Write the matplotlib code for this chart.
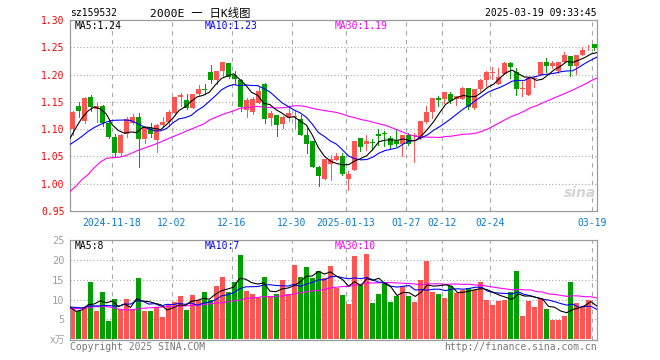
import numpy as np
import pandas as pd
import matplotlib
matplotlib.use("Agg")
import matplotlib.pyplot as plt

# ---------------- data ----------------
opens = [1.100, 1.142, 1.115, 1.159, 1.136, 1.142, 1.111, 1.085, 1.057, 1.092,
         1.112, 1.122, 1.082, 1.103, 1.080, 1.107, 1.113, 1.129, 1.159, 1.153,
         1.139, 1.165, 1.173, 1.204, 1.1905, 1.2065, 1.221, 1.199, 1.1905, 1.135,
         1.132, 1.1476, 1.1826, 1.120, 1.1256, 1.109, 1.123, 1.122, 1.118, 1.089,
         1.078, 1.0305, 1.009, 1.037, 1.043, 1.0508, 1.008, 1.025, 1.0833, 1.0722,
         1.0753, 1.0906, 1.0925, 1.0833, 1.0784, 1.0722, 1.089, 1.0876, 1.0833, 1.1133,
         1.1317, 1.1574, 1.155, 1.1642, 1.155, 1.155, 1.1746, 1.1384, 1.1734, 1.1905,
         1.203, 1.1826, 1.201, 1.221, 1.2053, 1.1734, 1.1623, 1.191, 1.199, 1.2224,
         1.2163, 1.2071, 1.2236, 1.2335, 1.215, 1.236, 1.2535, 1.256]
highs = [1.133, 1.150, 1.158, 1.162, 1.148, 1.145, 1.116, 1.092, 1.092, 1.122,
         1.127, 1.129, 1.105, 1.111, 1.109, 1.123, 1.135, 1.158, 1.166, 1.164,
         1.164, 1.180, 1.183, 1.2175, 1.2065, 1.2236, 1.221, 1.2065, 1.192, 1.1575,
         1.158, 1.1777, 1.184, 1.1335, 1.1256, 1.1244, 1.1415, 1.1335, 1.1256, 1.103,
         1.078, 1.0324, 1.0447, 1.052, 1.057, 1.057, 1.0232, 1.0778, 1.0833, 1.089,
         1.0814, 1.100, 1.0968, 1.0876, 1.0986, 1.089, 1.0925, 1.0925, 1.115, 1.1427,
         1.1574, 1.160, 1.1685, 1.1685, 1.161, 1.178, 1.1746, 1.1734, 1.1918, 1.207,
         1.213, 1.2114, 1.2224, 1.2236, 1.2114, 1.190, 1.1948, 1.198, 1.2236, 1.2298,
         1.2243, 1.2224, 1.242, 1.2335, 1.236, 1.250, 1.2545, 1.256]
lows = [1.090, 1.123, 1.112, 1.133, 1.113, 1.106, 1.083, 1.050, 1.053, 1.086,
        1.109, 1.030, 1.074, 1.086, 1.058, 1.105, 1.106, 1.126, 1.143, 1.137,
        1.138, 1.162, 1.165, 1.184, 1.1826, 1.198, 1.1936, 1.1826, 1.1335, 1.123,
        1.1274, 1.1476, 1.112, 1.107, 1.0876, 1.102, 1.1152, 1.102, 1.089, 1.057,
        1.0305, 0.9956, 1.009, 1.0067, 1.043, 1.0164, 0.988, 1.025, 1.060, 1.0618,
        1.062, 1.0704, 1.069, 1.066, 1.0692, 1.050, 1.0704, 1.0397, 1.0814, 1.112,
        1.1213, 1.1415, 1.1476, 1.1476, 1.144, 1.155, 1.1366, 1.1366, 1.170, 1.1795,
        1.1918, 1.1826, 1.201, 1.193, 1.1623, 1.161, 1.1623, 1.1765, 1.199, 1.204,
        1.2114, 1.2028, 1.2236, 1.198, 1.201, 1.236, 1.2457, 1.2457]
closes = [1.131, 1.133, 1.157, 1.141, 1.142, 1.112, 1.086, 1.057, 1.090, 1.118,
          1.123, 1.082, 1.103, 1.091, 1.107, 1.113, 1.132, 1.158, 1.162, 1.139,
          1.164, 1.173, 1.172, 1.1905, 1.2065, 1.2224, 1.196, 1.192, 1.140, 1.153,
          1.155, 1.170, 1.118, 1.129, 1.107, 1.123, 1.130, 1.1245, 1.089, 1.0722,
          1.0305, 1.015, 1.0447, 1.0447, 1.0508, 1.0177, 1.017, 1.0778, 1.0673, 1.0778,
          1.0747, 1.0876, 1.0918, 1.0704, 1.0722, 1.089, 1.0722, 1.090, 1.115, 1.1317,
          1.1574, 1.1538, 1.1685, 1.152, 1.160, 1.175, 1.1403, 1.1734, 1.1905, 1.2053,
          1.205, 1.196, 1.221, 1.213, 1.1734, 1.1746, 1.193, 1.193, 1.2236, 1.2163,
          1.221, 1.2224, 1.236, 1.2163, 1.236, 1.2457, 1.2545, 1.2488]
volumes = [7.8, 7.0, 8.1, 14.5, 7.0, 11.8, 4.5, 10.2, 7.6, 10.2,
           7.6, 15.5, 7.0, 7.1, 8.1, 5.7, 8.9, 9.5, 10.9, 7.4,
           11.2, 9.9, 12.0, 10.0, 13.4, 15.8, 12.0, 14.3, 21.3, 12.2,
           11.4, 10.3, 15.8, 10.9, 11.4, 15.0, 11.4, 18.7, 15.8, 18.3,
           15.5, 17.1, 15.4, 18.5, 12.9, 11.2, 8.9, 21.0, 13.7, 21.5,
           9.2, 11.4, 14.1, 9.5, 10.8, 13.3, 10.8, 9.5, 15.0, 19.8,
           11.8, 11.4, 10.5, 13.3, 11.6, 12.4, 12.9, 12.4, 14.5, 9.9,
           8.7, 9.7, 9.9, 11.8, 17.1, 5.9, 9.7, 8.0, 10.1, 7.6,
           4.9, 4.9, 5.9, 14.3, 9.2, 8.1, 9.9, 0.1]

# moving-average values at the left edge (they depend on days before the window)
ma5_head = [1.083, 1.103, 1.121, 1.1335]
ma10_head = [1.072, 1.079, 1.087, 1.096, 1.103, 1.1085, 1.113, 1.116, 1.1165]
ma30_head = [0.986, 0.9956, 1.008, 1.017, 1.0293, 1.0397, 1.0465, 1.0477, 1.0483, 1.0508,
             1.055, 1.060, 1.0643, 1.068, 1.0722, 1.0765, 1.0814, 1.0863, 1.0906, 1.0955,
             1.100, 1.1047, 1.109, 1.1166, 1.1215, 1.126, 1.130, 1.1335, 1.138]
vma5_head = [8.1, 7.0, 7.4, 8.7]
vma10_head = [8.1, 8.0, 7.9, 8.3, 8.4, 8.4, 8.5, 8.4, 8.3]
vma30_head = [7.8, 7.7, 7.7, 7.9, 8.2, 8.2, 8.2, 8.0, 7.6, 7.4,
              7.4, 7.6, 7.8, 7.9, 8.0, 8.1, 8.2, 8.2, 8.3, 8.4,
              8.5, 8.6, 8.7, 8.9, 9.1, 9.2, 9.4, 9.7, 9.8]

date_index = [7, 17, 27, 37, 46, 56, 62, 70, 87]
date_labels = ["2024-11-18", "12-02", "12-16", "12-30", "2025-01-13",
               "01-27", "02-12", "02-24", "03-19"]
price_ticks = [0.95, 1.00, 1.05, 1.10, 1.15, 1.20, 1.25, 1.30]
vol_ticks = [5, 10, 15, 20, 25]

title_code = "sz159532"
title_name = "2000E 一 日K线图"
timestamp = "2025-03-19 09:33:45"
vol_unit = "x万"
footer_left = "Copyright 2025 SINA.COM"
footer_right = "http://finance.sina.com.cn"

# ---------------- styling ----------------
RED = "#ff5454"
GREEN = "#00a000"
BLUE = "#0000ff"
MAG = "#ff00ff"
GRID = "#a8a8a8"
BORDER = "#999999"
MONO = "DejaVu Sans Mono"
FS = 7.0
PX = 0.72  # one pixel in points

W, H = 660, 360
fig = plt.figure(figsize=(W / 100, H / 100), dpi=100)
fig.patch.set_facecolor("white")


def rect(l, t, r, b):
    return [l / W, 1 - b / H, (r - l) / W, (b - t) / H]


def ftext(x, y, s, **kw):
    fig.text(x / W, 1 - y / H, s, va="center", **kw)


def moving(vals, n, head):
    s = pd.Series(vals, dtype=float).rolling(n).mean().to_numpy()
    s[: n - 1] = head
    return s


n = len(closes)
xs = np.arange(n)
XL = (-0.417, n - 1 + 0.417)
line_x = np.linspace(XL[0], XL[1], n)

o = np.array(opens); c = np.array(closes); h = np.array(highs); lo = np.array(lows)
up = c >= o
colors = np.where(up, RED, GREEN)

ax = fig.add_axes(rect(70, 20, 597, 211))
axv = fig.add_axes(rect(70, 240, 597, 340))

for a in (ax, axv):
    a.set_xlim(*XL)
    for sp in a.spines.values():
        sp.set_color(BORDER)
        sp.set_linewidth(1.2 * PX)
    a.tick_params(length=0)
    for di in date_index:
        a.axvline(di - 0.417, color=GRID, lw=1.1 * PX, ls=(0, (4, 4)), zorder=0)

# ---- price panel ----
ax.set_ylim(0.95, 1.30)
for t in price_ticks[1:-1]:
    ax.axhline(t, color=GRID, lw=1.1 * PX, ls=(0, (1, 2)), zorder=0)

ax.vlines(xs, lo, h, colors=colors, lw=1.0 * PX, zorder=2, antialiased=False)
body_bottom = np.minimum(o, c)
body_h = np.maximum(np.abs(c - o), 0.0013)
ax.bar(xs, body_h, bottom=body_bottom, width=0.8, color=colors, lw=0,
       zorder=3, antialiased=False)

ma5 = moving(closes, 5, ma5_head)
ma10 = moving(closes, 10, ma10_head)
ma30 = moving(closes, 30, ma30_head)
ax.plot(line_x, ma30, color=MAG, lw=1.1 * PX, zorder=4)
ax.plot(line_x, ma10, color=BLUE, lw=1.1 * PX, zorder=4)
ax.plot(line_x, ma5, color="black", lw=1.1 * PX, zorder=4)

ax.set_yticks(price_ticks)
ax.set_yticklabels([f"{t:.2f}" for t in price_ticks], color="#ff0000",
                   fontsize=FS, family=MONO)
ax.tick_params(axis="y", pad=4)
ax.set_xticks([di - 0.417 for di in date_index])
ax.set_xticklabels(date_labels, color="#0a7ad0", fontsize=FS, family=MONO)
ax.tick_params(axis="x", pad=5)

# ---- volume panel ----
axv.set_ylim(-0.2, 25)
for t in vol_ticks[:-1]:
    axv.axhline(t, color=GRID, lw=1.1 * PX, ls=(0, (1, 2)), zorder=0)
axv.bar(xs, volumes, width=0.8, color=colors, lw=0, zorder=2, antialiased=False)
vma5 = moving(volumes, 5, vma5_head)
vma10 = moving(volumes, 10, vma10_head)
vma30 = moving(volumes, 30, vma30_head)
axv.plot(line_x, vma30, color=MAG, lw=1.1 * PX, zorder=4)
axv.plot(line_x, vma10, color=BLUE, lw=1.1 * PX, zorder=4)
axv.plot(line_x, vma5, color="black", lw=1.1 * PX, zorder=4)
axv.set_yticks(vol_ticks)
axv.set_yticklabels([str(t) for t in vol_ticks], color="#a0a0a0",
                    fontsize=FS + 0.5, family=MONO)
axv.tick_params(axis="y", pad=4)
axv.set_xticks([])

# ---- texts ----
ftext(70, 13, title_code, fontsize=FS, family=MONO, color="black")
ftext(150, 13, title_name, fontsize=8.2, family=[MONO, "Noto Sans CJK SC"],
      color="black")
ftext(597, 13, timestamp, fontsize=FS, family=MONO, color="black", ha="right")

ftext(75, 26, f"MA5:{ma5[-1]:.2f}", fontsize=FS, family=MONO, color="black")
ftext(205, 26, f"MA10:{ma10[-1]:.2f}", fontsize=FS, family=MONO, color=BLUE)
ftext(335, 26, f"MA30:{ma30[-1]:.2f}", fontsize=FS, family=MONO, color=MAG)

ftext(75, 246, f"MA5:{int(vma5[-1])}", fontsize=FS, family=MONO, color="black")
ftext(205, 246, f"MA10:{int(vma10[-1])}", fontsize=FS, family=MONO, color=BLUE)
ftext(335, 246, f"MA30:{int(vma30[-1])}", fontsize=FS, family=MONO, color=MAG)

ftext(65, 340, vol_unit, fontsize=FS, family=["DejaVu Sans", "Noto Sans CJK SC"],
      color="#a0a0a0", ha="right")
ftext(70, 347, footer_left, fontsize=FS, family=MONO, color="#777777")
ftext(597, 347, footer_right, fontsize=FS, family=MONO, color="#777777", ha="right")

# sina watermark
ftext(580, 193, "sina", fontsize=10, family="DejaVu Sans", color="#d4d4d4",
      ha="center", style="italic", weight="bold")

fig.savefig("out.png", dpi=100, facecolor="white")
